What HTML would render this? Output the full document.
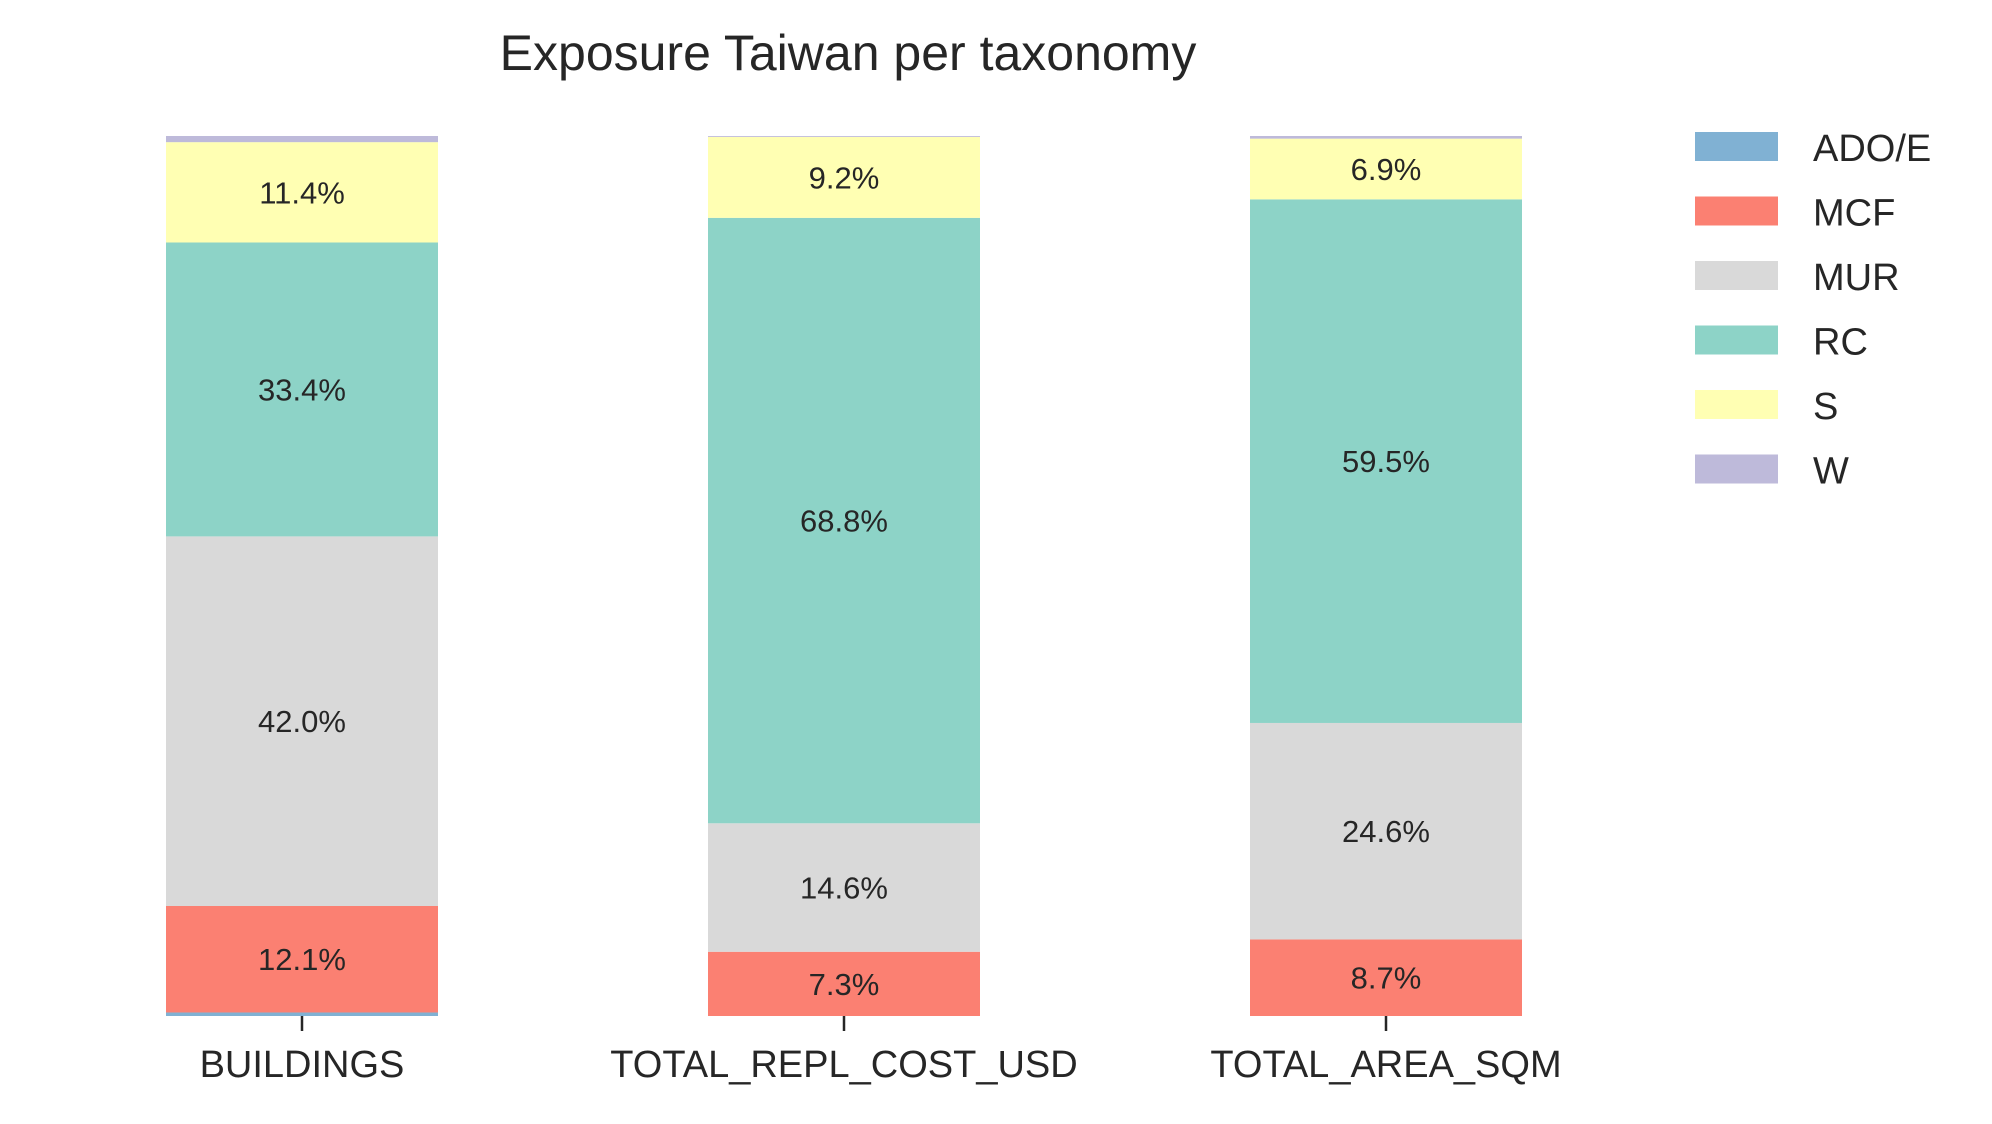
<!DOCTYPE html>
<html><head><meta charset="utf-8"><style>
html,body{margin:0;padding:0;background:#fff;}
svg text{font-family:"Liberation Sans",sans-serif;fill:#262626;}
</style></head><body>
<svg id="chart" width="1992" height="1119" xmlns="http://www.w3.org/2000/svg">
<text x="848" y="70" font-size="50" text-anchor="middle">Exposure Taiwan per taxonomy</text>
<g id="bars"></g><g id="xaxis"></g><g id="legend"></g>
</svg>
<script>
const categories = ["BUILDINGS","TOTAL_REPL_COST_USD","TOTAL_AREA_SQM"];
const seriesNames = ["ADO/E","MCF","MUR","RC","S","W"];
const adoValues = [0.4, 0.0, 0.0];
const mcfValues = [12.1, 7.3, 8.7];
const murValues = [42.0, 14.6, 24.6];
const rcValues = [33.4, 68.8, 59.5];
const sValues = [11.4, 9.2, 6.9];
const wValues = [0.7, 0.1, 0.3];
const colors = ["#80b1d3","#fb8072","#d9d9d9","#8dd3c7","#ffffb3","#bebada"];
const series = [adoValues, mcfValues, murValues, rcValues, sValues, wValues];
const NS = "http://www.w3.org/2000/svg";
const yTop = 136, yBottom = 1016;
const barW = 272;
const centers = [302, 844, 1386];
function xScale(i){ return centers[i]; }
function yScale(v){ return yBottom - (v/100)*(yBottom - yTop); }
const bars = document.getElementById('bars');
categories.forEach((c,i)=>{
  let total = series.reduce((a,s)=>a+s[i],0);
  let cum = 0;
  series.forEach((s,k)=>{
    const v = s[i]/total*100;
    if (v <= 0) { return; }
    const y1 = yScale(cum), y2 = yScale(cum+v);
    const r = document.createElementNS(NS,'rect');
    r.setAttribute('x', xScale(i)-barW/2); r.setAttribute('width', barW);
    r.setAttribute('y', y2); r.setAttribute('height', y1-y2);
    r.setAttribute('fill', colors[k]);
    
    
    bars.appendChild(r);
    if (s[i] >= 3) {
      const t = document.createElementNS(NS,'text');
      t.setAttribute('x', xScale(i)); t.setAttribute('y', (y1+y2)/2 + 11);
      t.setAttribute('font-size', '31'); t.setAttribute('text-anchor','middle');
      t.textContent = s[i].toFixed(1) + '%';
      
      
      bars.appendChild(t);
    }
    cum += v;
  });
});
const xa = document.getElementById('xaxis');
categories.forEach((c,i)=>{
  const l = document.createElementNS(NS,'line');
  l.setAttribute('x1', xScale(i)); l.setAttribute('x2', xScale(i));
  l.setAttribute('y1', yBottom); l.setAttribute('y2', yBottom+15);
  l.setAttribute('stroke', '#262626'); l.setAttribute('stroke-width', '2.5');
  
  
  xa.appendChild(l);
  const t = document.createElementNS(NS,'text');
  t.setAttribute('x', xScale(i)); t.setAttribute('y', 1077);
  t.setAttribute('font-size', '38'); t.setAttribute('text-anchor','middle');
  t.textContent = c;
  
  
  xa.appendChild(t);
});
const lg = document.getElementById('legend');
seriesNames.forEach((n,k)=>{
  const y = 132 + k*64.5;
  const r = document.createElementNS(NS,'rect');
  r.setAttribute('x', 1695); r.setAttribute('y', y); r.setAttribute('width', 83); r.setAttribute('height', 29);
  r.setAttribute('fill', colors[k]);
  
  
  lg.appendChild(r);
  const t = document.createElementNS(NS,'text');
  t.setAttribute('x', 1813); t.setAttribute('y', y + 29);
  t.setAttribute('font-size', '38');
  t.textContent = n;
  
  
  lg.appendChild(t);
});
</script>
</body></html>
